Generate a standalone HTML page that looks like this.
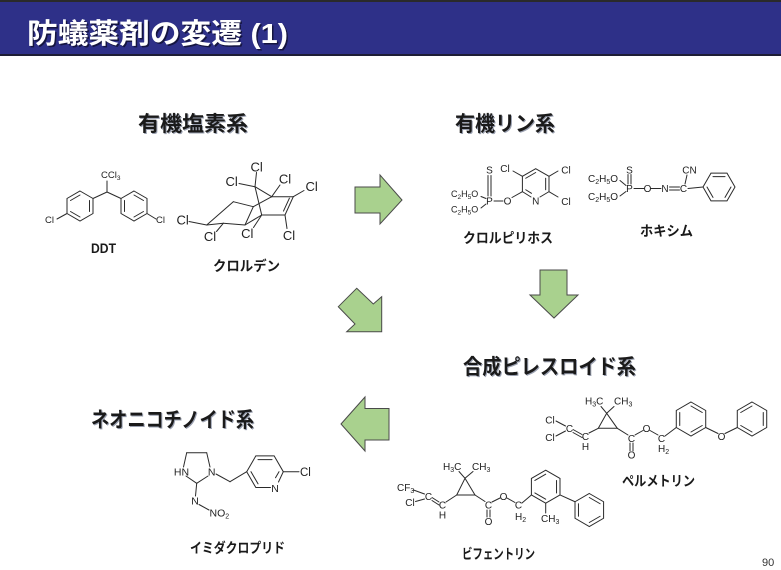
<!DOCTYPE html>
<html><head><meta charset="utf-8"><style>
html,body{margin:0;padding:0;background:#fff;}
body{width:781px;height:570px;overflow:hidden;}
svg{display:block;}
.jp{font-family:"Liberation Sans","Noto Sans CJK JP",sans-serif;font-weight:700;}
.ch{font-family:"Liberation Sans",sans-serif;fill:#222;}
</style></head><body>
<svg width="781" height="570" viewBox="0 0 781 570" xmlns="http://www.w3.org/2000/svg">
<!-- title bar -->
<rect x="0" y="0" width="781" height="56" fill="#2e3088"/>
<rect x="0" y="0" width="781" height="2" fill="#2a2a2a"/>
<rect x="0" y="54" width="781" height="2" fill="#1d1d35"/>
<text class="jp" x="28.5" y="44.5" font-size="28" fill="#151540" textLength="261" lengthAdjust="spacingAndGlyphs">防蟻薬剤の変遷 (1)</text>
<text class="jp" x="27" y="43" font-size="28" fill="#ffffff" textLength="261" lengthAdjust="spacingAndGlyphs">防蟻薬剤の変遷 (1)</text>

<!-- headings -->
<g class="jp" font-size="21">
<text x="139" y="132" fill="#9aa0b0" textLength="110" lengthAdjust="spacingAndGlyphs">有機塩素系</text>
<text x="138" y="131" fill="#1a1a1a" textLength="110" lengthAdjust="spacingAndGlyphs">有機塩素系</text>
<text x="456" y="132" fill="#9aa0b0" textLength="100" lengthAdjust="spacingAndGlyphs">有機リン系</text>
<text x="455" y="131" fill="#1a1a1a" textLength="100" lengthAdjust="spacingAndGlyphs">有機リン系</text>
<text x="464" y="375" fill="#9aa0b0" textLength="173" lengthAdjust="spacingAndGlyphs">合成ピレスロイド系</text>
<text x="463" y="374" fill="#1a1a1a" textLength="173" lengthAdjust="spacingAndGlyphs">合成ピレスロイド系</text>
<text x="92" y="428" fill="#9aa0b0" textLength="163" lengthAdjust="spacingAndGlyphs">ネオニコチノイド系</text>
<text x="91" y="427" fill="#1a1a1a" textLength="163" lengthAdjust="spacingAndGlyphs">ネオニコチノイド系</text>
</g>

<!-- compound names -->
<g class="jp" font-size="14" fill="#1a1a1a">
<text x="91" y="253" textLength="25" lengthAdjust="spacingAndGlyphs">DDT</text>
<text x="213" y="271" textLength="67" lengthAdjust="spacingAndGlyphs">クロルデン</text>
<text x="463" y="243" textLength="90" lengthAdjust="spacingAndGlyphs">クロルピリホス</text>
<text x="640" y="236" textLength="53" lengthAdjust="spacingAndGlyphs">ホキシム</text>
<text x="622" y="486" textLength="73" lengthAdjust="spacingAndGlyphs">ペルメトリン</text>
<text x="462" y="559" textLength="73" lengthAdjust="spacingAndGlyphs">ビフェントリン</text>
<text x="190" y="553" textLength="95" lengthAdjust="spacingAndGlyphs">イミダクロプリド</text>
</g>

<!-- arrows -->
<g fill="#a9d18e" stroke="#4a4a4a" stroke-width="1" stroke-linejoin="miter">
<polygon points="355,187 380,187 380,175 402,200 380,224 380,213 355,213"/>
<polygon points="540,270 567,270 567,295 578,295 554,318 530,295 540,295"/>
<polygon points="356.7,288.3 373.3,304 381.7,296.7 381.7,331.7 346.7,331.7 355,324 338.3,306.7"/>
<polygon points="341,424 365,397 365,408.5 389,408.5 389,440 365,440 365,451"/>
</g>

<!-- bonds -->
<g stroke="#2a2a2a" stroke-width="1" fill="none" stroke-linecap="round">
<!-- DDT -->
<line x1="107" y1="181" x2="107" y2="192"/>
<line x1="107" y1="192" x2="93" y2="198.5"/>
<line x1="107" y1="192" x2="121" y2="198.5"/>
<polygon points="80,191 93,198.5 93,213.5 80,221 67,213.5 67,198.5"/>
<line x1="70.5" y1="200.5" x2="80" y2="195"/>
<line x1="89.5" y1="200.5" x2="89.5" y2="211.5"/>
<line x1="80" y1="217" x2="70.5" y2="211.5"/>
<polygon points="134,191 147,198.5 147,213.5 134,221 121,213.5 121,198.5"/>
<line x1="134" y1="195" x2="143.5" y2="200.5"/>
<line x1="124.5" y1="211.5" x2="124.5" y2="200.5"/>
<line x1="143.5" y1="211.5" x2="134" y2="217"/>
<line x1="67" y1="213.5" x2="57" y2="219"/>
<line x1="147" y1="213.5" x2="156" y2="219"/>

<!-- Chlordane -->
<line x1="255" y1="186.7" x2="271.7" y2="196.7"/>
<line x1="271.7" y1="196.7" x2="293.3" y2="196.7"/>
<line x1="293.3" y1="196.7" x2="285" y2="215"/>
<line x1="289.4" y1="198.2" x2="283.5" y2="211.1"/>
<line x1="285" y1="215" x2="261.7" y2="215"/>
<line x1="261.7" y1="215" x2="255" y2="186.7"/>
<line x1="271.7" y1="196.7" x2="253.3" y2="206.7"/>
<line x1="253.3" y1="206.7" x2="245" y2="225"/>
<line x1="245" y1="225" x2="261.7" y2="215"/>
<line x1="253.3" y1="206.7" x2="233.3" y2="201.7"/>
<line x1="233.3" y1="201.7" x2="206.7" y2="225"/>
<line x1="206.7" y1="225" x2="223.3" y2="223.3"/>
<line x1="223.3" y1="223.3" x2="245" y2="225"/>
<line x1="255" y1="186.7" x2="256.5" y2="172.5"/>
<line x1="255" y1="186.7" x2="239" y2="183.5"/>
<line x1="271.7" y1="196.7" x2="280" y2="185"/>
<line x1="293.3" y1="196.7" x2="304" y2="190.5"/>
<line x1="285" y1="215" x2="287" y2="228.5"/>
<line x1="261.7" y1="215" x2="253.5" y2="227.5"/>
<line x1="206.7" y1="225" x2="189" y2="221.5"/>
<line x1="223.3" y1="223.3" x2="216.5" y2="231.5"/>

<!-- Chlorpyrifos -->
<polyline points="531,197 522.4,191.65 522.4,176.35 535.7,168.7 549,176.35 549,191.65 540,197"/>
<line x1="525.74" y1="178.25" x2="535.7" y2="172.5"/>
<line x1="545.66" y1="178.25" x2="545.66" y2="189.75"/>
<line x1="525.74" y1="189.75" x2="531.5" y2="193.3"/>
<line x1="522.4" y1="176.35" x2="513" y2="171"/>
<line x1="549" y1="176.35" x2="558" y2="171"/>
<line x1="549" y1="191.65" x2="558" y2="197"/>
<line x1="522.4" y1="191.65" x2="512" y2="197.5"/>
<line x1="494" y1="201" x2="503" y2="201"/>
<line x1="488" y1="175.5" x2="488" y2="196"/>
<line x1="491" y1="175.5" x2="491" y2="196"/>
<line x1="481" y1="196.5" x2="486" y2="198.5"/>
<line x1="481" y1="208" x2="486" y2="204"/>

<!-- Phoxim -->
<line x1="628" y1="174.5" x2="628" y2="184"/>
<line x1="631" y1="174.5" x2="631" y2="184"/>
<line x1="620" y1="180.5" x2="626" y2="185.5"/>
<line x1="620" y1="196" x2="626" y2="191.5"/>
<line x1="634" y1="188.5" x2="644" y2="188.5"/>
<line x1="651" y1="188.5" x2="661" y2="188.5"/>
<line x1="669.5" y1="187" x2="679.5" y2="187"/>
<line x1="669.5" y1="190" x2="679.5" y2="190"/>
<line x1="685" y1="184" x2="687" y2="175"/>
<line x1="688" y1="188.5" x2="703" y2="187"/>
<polygon points="735,187 727,200.9 711,200.9 703,187 711,173.1 727,173.1"/>
<line x1="713" y1="176.6" x2="725" y2="176.6"/>
<line x1="731" y1="187" x2="725" y2="197.4"/>
<line x1="713" y1="197.4" x2="707" y2="187"/>

<!-- Permethrin -->
<polygon points="606.7,413.3 598.3,428.3 617.3,428.3"/>
<line x1="606.7" y1="413.3" x2="601" y2="406.5"/>
<line x1="606.7" y1="413.3" x2="614" y2="406.5"/>
<line x1="556" y1="421" x2="565.5" y2="426"/>
<line x1="556" y1="436" x2="565.5" y2="431"/>
<line x1="573" y1="429.5" x2="582" y2="434.5"/>
<line x1="573" y1="432.5" x2="582" y2="437.5"/>
<line x1="589" y1="433" x2="598.3" y2="428.3"/>
<line x1="617.3" y1="428.3" x2="628" y2="435"/>
<line x1="630" y1="443" x2="630" y2="451"/>
<line x1="633" y1="443" x2="633" y2="451"/>
<line x1="635" y1="435" x2="643" y2="430.5"/>
<line x1="650" y1="430.5" x2="658" y2="435"/>
<line x1="665" y1="436" x2="676.28" y2="427.5"/>
<polygon points="691,402 705.72,410.5 705.72,427.5 691,436 676.28,427.5 676.28,410.5"/>
<line x1="691" y1="406" x2="702.26" y2="412.5"/>
<line x1="702.26" y1="425.5" x2="691" y2="432"/>
<line x1="679.74" y1="425.5" x2="679.74" y2="412.5"/>
<line x1="705.72" y1="427.5" x2="718" y2="433.5"/>
<line x1="725" y1="433.5" x2="737.28" y2="427.5"/>
<polygon points="752,402 766.72,410.5 766.72,427.5 752,436 737.28,427.5 737.28,410.5"/>
<line x1="763.26" y1="412.5" x2="763.26" y2="425.5"/>
<line x1="752" y1="432" x2="740.74" y2="425.5"/>
<line x1="740.74" y1="412.5" x2="752" y2="406"/>

<!-- Bifenthrin -->
<polygon points="465,478.3 456.7,495 475,495"/>
<line x1="465" y1="478.3" x2="459" y2="471.5"/>
<line x1="465" y1="478.3" x2="473" y2="471.5"/>
<line x1="413.5" y1="490" x2="424.5" y2="494"/>
<line x1="415.5" y1="501.5" x2="424.5" y2="499"/>
<line x1="432" y1="497.5" x2="439" y2="502"/>
<line x1="432" y1="500.5" x2="439" y2="505"/>
<line x1="446" y1="502" x2="456.7" y2="495"/>
<line x1="475" y1="495" x2="485" y2="501.5"/>
<line x1="487" y1="510" x2="487" y2="517"/>
<line x1="490" y1="510" x2="490" y2="517"/>
<line x1="492" y1="502" x2="500" y2="498"/>
<line x1="507" y1="498" x2="515" y2="502.5"/>
<line x1="522" y1="503" x2="531.4" y2="495"/>
<polygon points="545.7,470.2 560,478.45 560,494.95 545.7,503.2 531.4,494.95 531.4,478.45"/>
<line x1="534.87" y1="480.45" x2="545.7" y2="474.2"/>
<line x1="556.53" y1="480.45" x2="556.53" y2="492.95"/>
<line x1="545.7" y1="499.2" x2="534.87" y2="492.95"/>
<line x1="545.7" y1="503.2" x2="545.7" y2="513"/>
<line x1="560" y1="494.95" x2="575.01" y2="501.75"/>
<polygon points="589.3,493.5 603.59,501.75 603.59,518.25 589.3,526.5 575.01,518.25 575.01,501.75"/>
<line x1="589.3" y1="497.5" x2="600.13" y2="503.75"/>
<line x1="600.13" y1="516.25" x2="589.3" y2="522.5"/>
<line x1="578.47" y1="516.25" x2="578.47" y2="503.75"/>

<!-- Imidacloprid -->
<line x1="183.5" y1="467" x2="186.7" y2="452.7"/>
<line x1="186.7" y1="452.7" x2="206.7" y2="452.7"/>
<line x1="206.7" y1="452.7" x2="210" y2="467"/>
<line x1="208" y1="476" x2="196.7" y2="483.3"/>
<line x1="196.7" y1="483.3" x2="186" y2="476"/>
<line x1="196.7" y1="483.3" x2="195.5" y2="496"/>
<line x1="199" y1="504.5" x2="209" y2="510"/>
<line x1="216" y1="474" x2="230" y2="481.7"/>
<line x1="230" y1="481.7" x2="246.7" y2="471.7"/>
<polyline points="278.5,482 283.3,471.7 274.15,455.85 255.85,455.85 246.7,471.7 255.85,487.55 270.5,487.55"/>
<line x1="258" y1="459.6" x2="272" y2="459.6"/>
<line x1="279" y1="471.7" x2="275.5" y2="477.7"/>
<line x1="258" y1="483.8" x2="251" y2="471.7"/>
<line x1="283.3" y1="471.7" x2="299" y2="471.7"/>
</g>

<!-- atom labels -->
<g class="ch">
<!-- DDT -->
<text x="101" y="178" font-size="9.5">CCl<tspan font-size="6.5" dy="2">3</tspan></text>
<text x="45" y="223" font-size="9.5">Cl</text>
<text x="156" y="223" font-size="9.5">Cl</text>
<!-- Chlordane -->
<g font-size="13" text-anchor="middle">
<text x="256.7" y="171.5">Cl</text>
<text x="231.7" y="186.2">Cl</text>
<text x="285" y="183.5">Cl</text>
<text x="311.7" y="191.2">Cl</text>
<text x="289" y="240.2">Cl</text>
<text x="247.3" y="237.8">Cl</text>
<text x="182.7" y="224.5">Cl</text>
<text x="210" y="241.2">Cl</text>
</g>
<!-- Chlorpyrifos -->
<g font-size="10" text-anchor="middle">
<text x="505" y="172">Cl</text>
<text x="566" y="173.5">Cl</text>
<text x="566" y="205">Cl</text>
<text x="535.7" y="204.5">N</text>
<text x="507.5" y="204.5">O</text>
<text x="489.5" y="204.5">P</text>
<text x="489.5" y="173.5">S</text>
</g>
<text x="451" y="197" font-size="9">C<tspan font-size="6.5" dy="2">2</tspan><tspan dy="-2">H</tspan><tspan font-size="6.5" dy="2">5</tspan><tspan dy="-2">O</tspan></text>
<text x="451" y="212.5" font-size="9">C<tspan font-size="6.5" dy="2">2</tspan><tspan dy="-2">H</tspan><tspan font-size="6.5" dy="2">5</tspan><tspan dy="-2">O</tspan></text>
<!-- Phoxim -->
<g font-size="10" text-anchor="middle">
<text x="629.5" y="173.5">S</text>
<text x="629.5" y="192">P</text>
<text x="647.5" y="192">O</text>
<text x="665" y="192">N</text>
<text x="683.5" y="192">C</text>
<text x="689.5" y="173.5">CN</text>
</g>
<text x="588" y="182" font-size="10">C<tspan font-size="7" dy="2">2</tspan><tspan dy="-2">H</tspan><tspan font-size="7" dy="2">5</tspan><tspan dy="-2">O</tspan></text>
<text x="588" y="200" font-size="10">C<tspan font-size="7" dy="2">2</tspan><tspan dy="-2">H</tspan><tspan font-size="7" dy="2">5</tspan><tspan dy="-2">O</tspan></text>
<!-- Permethrin -->
<text x="585" y="404.5" font-size="10">H<tspan font-size="7" dy="2">3</tspan><tspan dy="-2">C</tspan></text>
<text x="614" y="404.5" font-size="10">CH<tspan font-size="7" dy="2">3</tspan></text>
<g font-size="10" text-anchor="middle">
<text x="550" y="423.5">Cl</text>
<text x="550" y="441">Cl</text>
<text x="569.5" y="432">C</text>
<text x="585.5" y="440">C</text>
<text x="585.5" y="450">H</text>
<text x="631.5" y="442">C</text>
<text x="631.5" y="458.5">O</text>
<text x="646.5" y="432">O</text>
<text x="661.5" y="442">C</text>
<text x="721.5" y="440">O</text>
</g>
<text x="658" y="452" font-size="10">H<tspan font-size="7" dy="2">2</tspan></text>
<!-- Bifenthrin -->
<text x="443" y="470" font-size="10">H<tspan font-size="7" dy="2">3</tspan><tspan dy="-2">C</tspan></text>
<text x="472" y="470" font-size="10">CH<tspan font-size="7" dy="2">3</tspan></text>
<text x="397" y="491" font-size="10">CF<tspan font-size="7" dy="2">3</tspan></text>
<g font-size="10" text-anchor="middle">
<text x="410" y="506">Cl</text>
<text x="428.5" y="500">C</text>
<text x="442.5" y="508.5">C</text>
<text x="442.5" y="518.5">H</text>
<text x="488.5" y="508.5">C</text>
<text x="488.5" y="525">O</text>
<text x="503.5" y="500">O</text>
<text x="518.5" y="508.5">C</text>
</g>
<text x="515" y="520" font-size="10">H<tspan font-size="7" dy="2">2</tspan></text>
<text x="541" y="522" font-size="10">CH<tspan font-size="7" dy="2">3</tspan></text>
<!-- Imidacloprid -->
<g font-size="10.5" text-anchor="middle">
<text x="181.5" y="475.5">HN</text>
<text x="211.7" y="475.5">N</text>
<text x="195" y="504.5">N</text>
<text x="275" y="492">N</text>
</g>
<text x="209.5" y="516.5" font-size="10.5">NO<tspan font-size="7" dy="2">2</tspan></text>
<text x="300" y="476" font-size="11.5">Cl</text>
</g>

<!-- page number -->
<text x="762" y="566" font-family="Liberation Sans, sans-serif" font-size="11" fill="#333">90</text>
</svg>
</body></html>
